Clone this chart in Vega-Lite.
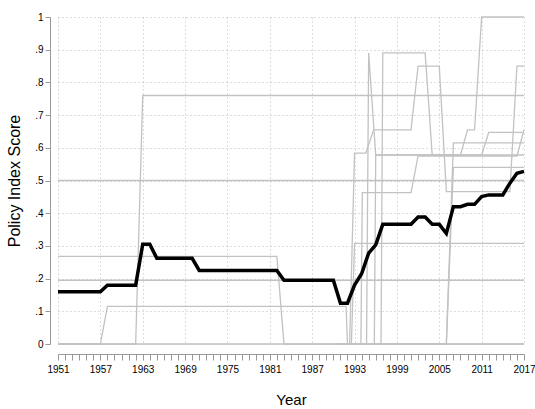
{
 "$schema": "https://vega.github.io/schema/vega-lite/v6.json",
 "width": 466, "height": 327,
 "autosize": {"type": "none"},
 "padding": {"left": 58, "top": 17, "right": 11, "bottom": 65},
 "background": "white",
 "config": {"view": {"stroke": null}, "font": "Liberation Sans"},
 "datasets": {
  "countries": [
   {"c": "c1", "year": 1951, "v": 0}, {"c": "c1", "year": 1962, "v": 0}, {"c": "c1", "year": 1963, "v": 0.76}, {"c": "c1", "year": 2017, "v": 0.76},
   {"c": "c2", "year": 1951, "v": 0.5}, {"c": "c2", "year": 2017, "v": 0.5},
   {"c": "c3", "year": 1951, "v": 0.268}, {"c": "c3", "year": 1982, "v": 0.268}, {"c": "c3", "year": 1983, "v": 0}, {"c": "c3", "year": 2006, "v": 0}, {"c": "c3", "year": 2007, "v": 0.54}, {"c": "c3", "year": 2017, "v": 0.54},
   {"c": "c4", "year": 1951, "v": 0.195}, {"c": "c4", "year": 2017, "v": 0.195},
   {"c": "c5", "year": 1951, "v": 0}, {"c": "c5", "year": 1957, "v": 0}, {"c": "c5", "year": 1958, "v": 0.115}, {"c": "c5", "year": 1991.8, "v": 0.115}, {"c": "c5", "year": 1992, "v": 0},
   {"c": "c6", "year": 1951, "v": 0}, {"c": "c6", "year": 2017, "v": 0},
   {"c": "c8", "year": 1992.55, "v": 0}, {"c": "c8", "year": 1993, "v": 0.308}, {"c": "c8", "year": 2017, "v": 0.308},
   {"c": "c9", "year": 1994.7, "v": 0}, {"c": "c9", "year": 1995, "v": 0.89}, {"c": "c9", "year": 1996, "v": 0.578}, {"c": "c9", "year": 2008, "v": 0.578}, {"c": "c9", "year": 2009, "v": 0.655}, {"c": "c9", "year": 2010, "v": 0.655}, {"c": "c9", "year": 2011, "v": 1.0}, {"c": "c9", "year": 2017, "v": 1.0},
   {"c": "c10", "year": 1996.75, "v": 0}, {"c": "c10", "year": 1997, "v": 0.89}, {"c": "c10", "year": 2003, "v": 0.89}, {"c": "c10", "year": 2004, "v": 0.578}, {"c": "c10", "year": 2011, "v": 0.578}, {"c": "c10", "year": 2012, "v": 0.647}, {"c": "c10", "year": 2017, "v": 0.647},
   {"c": "c11", "year": 1992.3, "v": 0}, {"c": "c11", "year": 1993, "v": 0.584}, {"c": "c11", "year": 1994.6, "v": 0.584}, {"c": "c11", "year": 1995.7, "v": 0.655}, {"c": "c11", "year": 2001, "v": 0.655}, {"c": "c11", "year": 2002, "v": 0.85}, {"c": "c11", "year": 2005, "v": 0.85}, {"c": "c11", "year": 2006, "v": 0.466}, {"c": "c11", "year": 2015, "v": 0.466}, {"c": "c11", "year": 2016, "v": 0.85}, {"c": "c11", "year": 2017, "v": 0.85},
   {"c": "c12", "year": 1993.9, "v": 0}, {"c": "c12", "year": 1994.1, "v": 0.463}, {"c": "c12", "year": 2001, "v": 0.463}, {"c": "c12", "year": 2002, "v": 0.575}, {"c": "c12", "year": 2016, "v": 0.575}, {"c": "c12", "year": 2017, "v": 0.655},
   {"c": "c13", "year": 2006, "v": 0}, {"c": "c13", "year": 2007, "v": 0.615}, {"c": "c13", "year": 2017, "v": 0.615},
   {"c": "c14", "year": 1991, "v": 0}, {"c": "c14", "year": 2017, "v": 0},
   {"c": "c15", "year": 1995.8, "v": 0}, {"c": "c15", "year": 1996, "v": 0.578}, {"c": "c15", "year": 2017, "v": 0.578}
  ],
  "mean": [
   {"year": 1951, "v": 0.16}, {"year": 1952, "v": 0.16}, {"year": 1953, "v": 0.16}, {"year": 1954, "v": 0.16}, {"year": 1955, "v": 0.16}, {"year": 1956, "v": 0.16}, {"year": 1957, "v": 0.16},
   {"year": 1958, "v": 0.18}, {"year": 1959, "v": 0.18}, {"year": 1960, "v": 0.18}, {"year": 1961, "v": 0.18}, {"year": 1962, "v": 0.18},
   {"year": 1963, "v": 0.305}, {"year": 1964, "v": 0.305},
   {"year": 1965, "v": 0.262}, {"year": 1966, "v": 0.262}, {"year": 1967, "v": 0.262}, {"year": 1968, "v": 0.262}, {"year": 1969, "v": 0.262}, {"year": 1970, "v": 0.262},
   {"year": 1971, "v": 0.225}, {"year": 1972, "v": 0.225}, {"year": 1973, "v": 0.225}, {"year": 1974, "v": 0.225}, {"year": 1975, "v": 0.225}, {"year": 1976, "v": 0.225}, {"year": 1977, "v": 0.225}, {"year": 1978, "v": 0.225}, {"year": 1979, "v": 0.225}, {"year": 1980, "v": 0.225}, {"year": 1981, "v": 0.225}, {"year": 1982, "v": 0.225},
   {"year": 1983, "v": 0.195}, {"year": 1984, "v": 0.195}, {"year": 1985, "v": 0.195}, {"year": 1986, "v": 0.195}, {"year": 1987, "v": 0.195}, {"year": 1988, "v": 0.195}, {"year": 1989, "v": 0.195}, {"year": 1990, "v": 0.195},
   {"year": 1991, "v": 0.125}, {"year": 1992, "v": 0.125}, {"year": 1993, "v": 0.18}, {"year": 1994, "v": 0.215}, {"year": 1995, "v": 0.278}, {"year": 1996, "v": 0.303},
   {"year": 1997, "v": 0.366}, {"year": 1998, "v": 0.366}, {"year": 1999, "v": 0.366}, {"year": 2000, "v": 0.366}, {"year": 2001, "v": 0.366},
   {"year": 2002, "v": 0.388}, {"year": 2003, "v": 0.388}, {"year": 2004, "v": 0.366}, {"year": 2005, "v": 0.366}, {"year": 2006, "v": 0.338},
   {"year": 2007, "v": 0.42}, {"year": 2008, "v": 0.42}, {"year": 2009, "v": 0.427}, {"year": 2010, "v": 0.427}, {"year": 2011, "v": 0.451},
   {"year": 2012, "v": 0.456}, {"year": 2013, "v": 0.456}, {"year": 2014, "v": 0.456}, {"year": 2015, "v": 0.492}, {"year": 2016, "v": 0.522}, {"year": 2017, "v": 0.528}
  ]
 },
 "encoding": {
  "x": {"field": "year", "type": "quantitative",
   "scale": {"domain": [1951, 2017], "nice": false, "zero": false},
   "axis": {
    "values": [1951,1952,1953,1954,1955,1956,1957,1958,1959,1960,1961,1962,1963,1964,1965,1966,1967,1968,1969,1970,1971,1972,1973,1974,1975,1976,1977,1978,1979,1980,1981,1982,1983,1984,1985,1986,1987,1988,1989,1990,1991,1992,1993,1994,1995,1996,1997,1998,1999,2000,2001,2002,2003,2004,2005,2006,2007,2008,2009,2010,2011,2012,2013,2014,2015,2016,2017],
    "labelExpr": "(datum.value - 1951) % 6 === 0 ? datum.value : ''",
    "labelOverlap": false, "labelFlush": false,
    "labelFontSize": 10, "labelColor": "#000", "labelPadding": 4,
    "offset": 10, "domainColor": "#999", "tickColor": "#999", "tickSize": 6,
    "grid": true, "gridDash": [1, 3],
    "gridColor": {"condition": {"test": "(datum.value - 1951) % 6 === 0", "value": "#bbb"}, "value": "rgba(0,0,0,0)"},
    "title": "Year", "titleFontSize": 15, "titleFontWeight": "normal", "titlePadding": 18, "titleColor": "#000"
   }},
  "y": {"field": "v", "type": "quantitative",
   "scale": {"domain": [0, 1], "nice": false},
   "axis": {
    "values": [0, 0.1, 0.2, 0.3, 0.4, 0.5, 0.6, 0.7, 0.8, 0.9, 1],
    "labelExpr": "datum.value === 0 ? '0' : datum.value === 1 ? '1' : replace(format(datum.value, '.1f'), '0.', '.')",
    "labelOverlap": false, "labelFlush": false,
    "labelFontSize": 10, "labelColor": "#000", "labelPadding": 2,
    "offset": 8, "domainColor": "#999", "tickColor": "#999", "tickSize": 5,
    "grid": true, "gridDash": [1, 3], "gridColor": "#bbb",
    "title": "Policy Index Score", "titleFontSize": 16, "titleFontWeight": "normal", "titlePadding": 12, "titleColor": "#000"
   }}
 },
 "layer": [
  {
   "data": {"name": "countries"},
   "mark": {"type": "line", "color": "#c2c2c2", "strokeWidth": 1.3},
   "encoding": {"detail": {"field": "c"}}
  },
  {
   "data": {"name": "mean"},
   "mark": {"type": "line", "color": "#000", "strokeWidth": 3.5}
  }
 ]
}
